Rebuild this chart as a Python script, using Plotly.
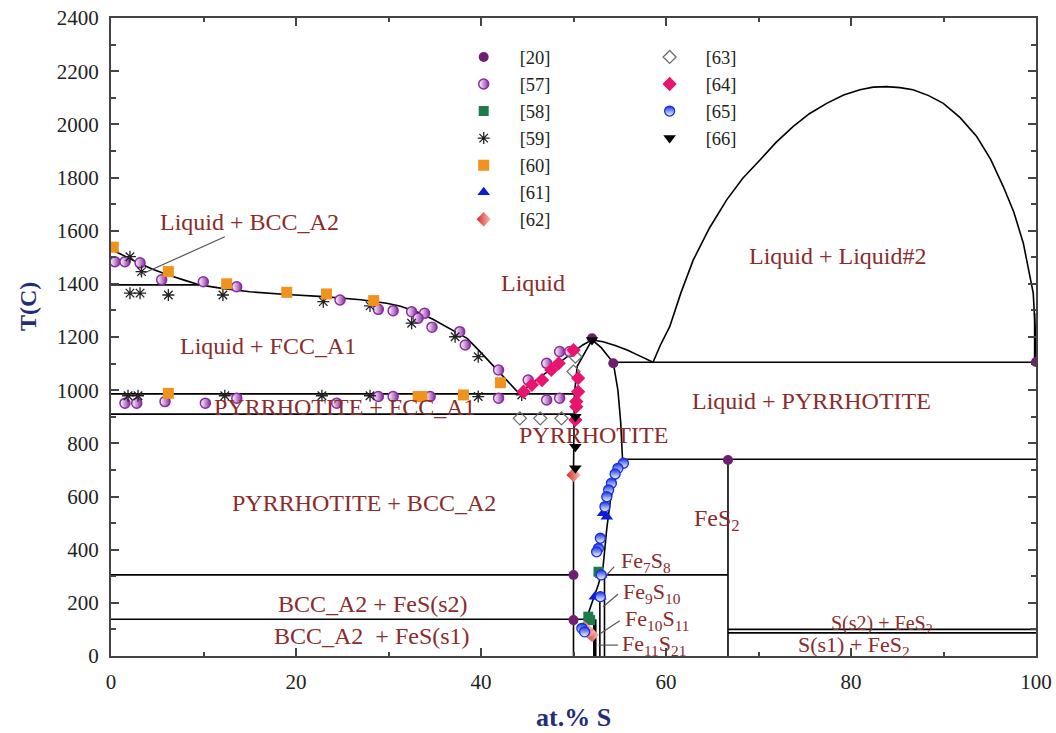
import plotly.graph_objects as go

# ---------------- calculated phase boundaries (at.% S, T in C) ----------------
liq_fe_x = [0, 1.5, 3, 4.5, 6.2, 8, 9.6, 12, 15, 19, 23, 27, 29.8, 31.2, 33, 34.8, 36.5, 38.5, 39.9, 41.5, 44.1]
liq_fe_T = [1530, 1503, 1478, 1455, 1433, 1413, 1396, 1383, 1370, 1360, 1352, 1340, 1327, 1317, 1296, 1267, 1235, 1195, 1145, 1085, 988]

liq_fes_x = [44.1, 45.5, 47, 48.5, 50, 51, 52.0]
liq_fes_T = [988, 1025, 1065, 1105, 1143, 1170, 1189]

liq_right_x = [52.0, 53.2, 54.5, 55.8, 57.2, 58.6]
liq_right_T = [1189, 1182, 1168, 1151, 1128, 1105]

pyr_left_x = [52.0, 51.2, 50.4, 50.1, 50.0, 50.0]
pyr_left_T = [1189, 1140, 1090, 986, 700, 0]

pyr_right_x = [52.0, 53.0, 54.3, 54.8, 55.1, 55.3, 55.0, 54.5, 54.0, 53.6, 53.2, 52.7, 52.1, 51.5, 51.0]
pyr_right_T = [1189, 1160, 1103, 1000, 880, 740, 705, 660, 587, 480, 336, 270, 211, 150, 110]

gap_x = [58.6, 59.4, 60.4, 61.6, 62.95, 64.7, 66.56, 68.3, 70.16, 71.9, 73.73, 75.5, 77.37, 79.2, 80.97,
         82.4, 83.86, 85.3, 86.7, 88.4, 89.98, 91.8, 93.59, 95.1, 96.46, 97.6, 98.63, 99.2, 99.7, 99.9, 100.0]
gap_T = [1105, 1170, 1239, 1365, 1490, 1610, 1716, 1797, 1866, 1932, 1991, 2040, 2079, 2110, 2130,
         2140, 2142, 2138, 2130, 2108, 2079, 2025, 1954, 1868, 1766, 1670, 1553, 1460, 1365, 1240, 1105]

# isotherms
iso_T = [1396, 986, 910, 305, 305, 138, 1105, 740, 100, 87]
iso_x0 = [0, 0, 0, 0, 52.95, 0, 54.3, 55.3, 66.7, 66.7]
iso_x1 = [9.6, 50.1, 50.0, 50.0, 66.7, 52.3, 100, 100, 100, 100]

# vertical (stoichiometric) lines
comp_x = [66.7, 53.35, 52.85, 99.85]
comp_T0 = [0, 0, 0, 1105]
comp_T1 = [740, 305, 215, 1290]
fe10s11_x = [52.3, 52.3]
fe10s11_T = [0, 138]

# ---------------- experimental data ----------------
s20_x = [100, 66.7, 54.3, 52.0, 50.0, 50.0]
s20_T = [1106, 737, 1101, 1195, 305, 135]

s57_x = [0.43, 1.51, 3.14, 5.48, 9.98, 13.59, 24.76, 28.9, 30.5, 32.5, 33.9, 33.2, 34.7, 37.7, 38.3, 41.9,
         1.51, 2.78, 5.84, 10.2, 13.6, 24.4, 28.9, 30.5, 34.5, 41.9,
         45.1, 47.1, 48.5, 49.6, 47.1, 48.5]
s57_T = [1483, 1483, 1479, 1415, 1408, 1389, 1339, 1304, 1299, 1295, 1289, 1271, 1237, 1220, 1170, 1076,
         951, 951, 957, 951, 970, 951, 976, 976, 976, 970,
         1038, 1101, 1145, 1145, 963, 970]

s58_x = [52.7, 51.6, 51.8]
s58_T = [317, 148, 135]

s59_x = [2.05, 3.3, 2.05, 3.14, 6.2, 12.1, 22.95, 28.0, 32.5, 37.2, 39.7,
         1.84, 2.92, 12.3, 22.8, 28.0, 39.7, 44.4]
s59_T = [1502, 1446, 1365, 1365, 1358, 1358, 1333, 1317, 1252, 1201, 1126,
         979, 979, 979, 979, 979, 976, 982]

s60_x = [0.25, 6.2, 12.5, 19.0, 23.3, 28.4, 42.1, 6.2, 33.2, 33.6, 38.1]
s60_T = [1538, 1446, 1400, 1368, 1362, 1337, 1028, 988, 976, 976, 982]

s61_x = [53.2, 53.6, 53.0, 52.3, 52.9, 51.0]
s61_T = [537, 524, 305, 223, 223, 105]

s62_x = [50.0, 52.0, 51.6, 51.2]
s62_T = [681, 79, 91, 105]

s63_x = [44.2, 46.4, 48.7, 50.0, 50.2]
s63_T = [894, 894, 894, 1070, 1126]

s64_x = [44.6, 45.5, 46.6, 47.6, 48.4, 50.0, 50.5, 50.5, 50.3, 50.3, 50.2]
s64_T = [994, 1020, 1038, 1076, 1101, 1151, 1045, 994, 957, 938, 888]

s65_x = [55.4, 54.8, 54.5, 54.1, 53.8, 53.6, 53.4, 52.9, 52.7, 52.5, 53.0, 52.9, 50.9, 51.2]
s65_T = [725, 706, 685, 650, 625, 599, 562, 443, 405, 392, 305, 223, 104, 91]

s66_x = [50.2, 50.2, 50.2, 52.0]
s66_T = [900, 787, 706, 1189]

# ---------------- figure ----------------
FONT = "Liberation Serif"
LBL = "#8B2B2B"
TITLE = "#1F2D7B"
LINE = "black"

fig = go.Figure()


def add_line(x, y, width=1.6):
    fig.add_trace(go.Scatter(x=x, y=y, mode="lines", line=dict(color=LINE, width=width),
                             showlegend=False, hoverinfo="skip"))


add_line(liq_fe_x, liq_fe_T)
add_line(liq_fes_x, liq_fes_T)
add_line(liq_right_x, liq_right_T)
add_line(pyr_left_x, pyr_left_T)
add_line(pyr_right_x, pyr_right_T)
add_line(gap_x, gap_T)

ix, iy = [], []
for t, a, b in zip(iso_T, iso_x0, iso_x1):
    ix += [a, b, None]
    iy += [t, t, None]
add_line(ix, iy)

vx, vy = [], []
for c, a, b in zip(comp_x, comp_T0, comp_T1):
    vx += [c, c, None]
    vy += [a, b, None]
add_line(vx, vy)
add_line(fe10s11_x, fe10s11_T, width=3.5)

# experimental series
series = [
    ("[20]", s20_x, s20_T, dict(symbol="circle", color="#6E1F72", size=10), "legend"),
    ("[57]", s57_x, s57_T, dict(symbol="circle", color="white", size=10,
                                line=dict(color="#8A2BA0", width=1.5),
                                gradient=dict(type="horizontal", color="#8A2BA0")), "legend"),
    ("[58]", s58_x, s58_T, dict(symbol="square", color="#1E7B4C", size=10), "legend"),
    ("[59]", s59_x, s59_T, dict(symbol="asterisk-open", color="#222", size=10,
                                line=dict(color="#222", width=1.3)), "legend"),
    ("[60]", s60_x, s60_T, dict(symbol="square", color="#F0921E", size=11), "legend"),
    ("[61]", s61_x, s61_T, dict(symbol="triangle-up", color="#0B1BD6", size=11), "legend"),
    ("[62]", s62_x, s62_T, dict(symbol="diamond", color="#D42A1E", size=11,
                                gradient=dict(type="horizontal", color="#F6C0B8")), "legend"),
    ("[63]", s63_x, s63_T, dict(symbol="diamond-open", color="#6E6E6E", size=10,
                                line=dict(color="#6E6E6E", width=1.3)), "legend2"),
    ("[64]", s64_x, s64_T, dict(symbol="diamond", color="#E8146E", size=11), "legend2"),
    ("[65]", s65_x, s65_T, dict(symbol="circle", color="#1530E0", size=10,
                                line=dict(color="#1530E0", width=1.3),
                                gradient=dict(type="vertical", color="white")), "legend2"),
    ("[66]", s66_x, s66_T, dict(symbol="triangle-down", color="black", size=11), "legend2"),
]
for name, x, y, mk, lg in series:
    fig.add_trace(go.Scatter(x=x, y=y, mode="markers", name=name, marker=mk, legend=lg))

# region labels
labels = [
    ("Liquid + BCC_A2", 15.0, 1633, 24),
    ("Liquid", 45.6, 1403, 24),
    ("Liquid + Liquid#2", 78.6, 1505, 24),
    ("Liquid + FCC_A1", 17.0, 1166, 24),
    ("Liquid + PYRRHOTITE", 75.7, 959, 24),
    ("PYRRHOTITE + FCC_A1", 25.3, 938, 24),
    ("PYRRHOTITE", 52.2, 831, 24),
    ("PYRRHOTITE + BCC_A2", 27.4, 576, 24),
    ("FeS<sub>2</sub>", 65.5, 510, 24),
    ("BCC_A2 + FeS(s2)", 28.3, 196, 24),
    ("BCC_A2  + FeS(s1)", 28.2, 75, 24),
    ("S(s2) + FeS<sub>2</sub>", 83.3, 120, 20),
    ("S(s1) + FeS<sub>2</sub>", 80.3, 38, 22),
]
for txt, x, y, s in labels:
    fig.add_annotation(x=x, y=y, text=txt, showarrow=False, xanchor="center", yanchor="middle",
                       font=dict(family=FONT, size=s, color=LBL))

fe_labels = [
    ("Fe<sub>7</sub>S<sub>8</sub>", 54.9, 352),
    ("Fe<sub>9</sub>S<sub>10</sub>", 55.1, 238),
    ("Fe<sub>10</sub>S<sub>11</sub>", 55.3, 134),
    ("Fe<sub>11</sub>S<sub>21</sub>", 55.0, 42),
]
for txt, x, y in fe_labels:
    fig.add_annotation(x=x, y=y, text=txt, showarrow=False, xanchor="left", yanchor="middle",
                       font=dict(family=FONT, size=22, color=LBL))

# pointer lines
pointers = [
    (12.3, 1577, 3.1, 1433),
    (54.4, 336, 53.6, 305),
    (54.8, 232, 53.2, 185),
    (55.0, 133, 52.9, 85),
    (54.8, 41, 52.7, 41),
]
for x0, y0, x1, y1 in pointers:
    fig.add_shape(type="line", x0=x0, y0=y0, x1=x1, y1=y1, xref="x", yref="y",
                  line=dict(color="#555", width=1.2))

# axis titles
fig.add_annotation(x=-0.0897, y=0.547, xref="paper", yref="paper", text="<b>T(C)</b>", textangle=-90,
                   xanchor="center", yanchor="middle",
                   showarrow=False, font=dict(family=FONT, size=24, color=TITLE))
fig.add_annotation(x=0.5, y=-0.097, xref="paper", yref="paper", text="<b>at.% S</b>",
                   xanchor="center", yanchor="middle",
                   showarrow=False, font=dict(family=FONT, size=26, color=TITLE))

axis_common = dict(showline=True, linecolor="#444", linewidth=2, mirror="ticks", ticks="inside",
                   ticklen=8, tickwidth=1.5, tickcolor="#444", showgrid=False, zeroline=False,
                   automargin=False,
                   tickfont=dict(family=FONT, size=21, color="#222"), ticklabelstandoff=6)

fig.update_xaxes(range=[0, 100], dtick=20, tick0=0,
                 minor=dict(dtick=10, ticks="inside", ticklen=4, tickcolor="#444", tickwidth=1.5),
                 **axis_common)
fig.update_yaxes(range=[0, 2400], dtick=200, tick0=0,
                 minor=dict(dtick=100, ticks="inside", ticklen=5, tickcolor="#444", tickwidth=1.5),
                 **axis_common)

legend_common = dict(bgcolor="rgba(0,0,0,0)", borderwidth=0, font=dict(family=FONT, size=18.5, color="#222"),
                     xanchor="left", yanchor="top", itemwidth=62, tracegroupgap=0)
fig.update_layout(
    width=1056, height=733,
    margin=dict(l=111, r=20, t=18, b=77),
    plot_bgcolor="white", paper_bgcolor="white",
    legend=dict(x=0.364, y=0.968, **legend_common),
    legend2=dict(x=0.565, y=0.968, **legend_common),
)

fig.write_html("out.html")
